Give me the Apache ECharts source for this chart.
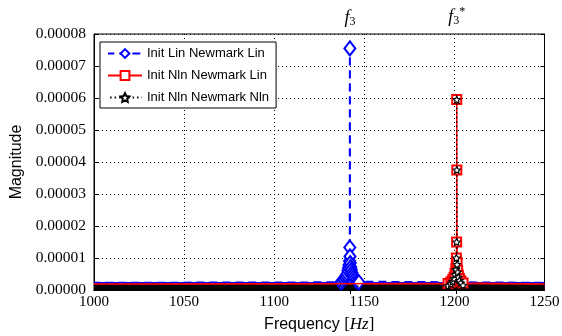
<!DOCTYPE html>
<html>
<head>
<meta charset="utf-8">
<script src="https://cdn.jsdelivr.net/npm/echarts@6/dist/echarts.min.js"></script>
<style>html,body{margin:0;padding:0;background:#fff;}#c{width:562px;height:336px;}</style>
</head>
<body>
<div id="c"></div>
<script>
// ---- data ----
const xTicks = [1000, 1050, 1100, 1150, 1200, 1250];
const yTicks = [0, 0.00001, 0.00002, 0.00003, 0.00004, 0.00005, 0.00006, 0.00007, 0.00008];
const f3 = 1142.0;
const f3s = 1201.3;

const seriesNames = ['Init Lin Newmark Lin', 'Init Nln Newmark Lin', 'Init Nln Newmark Nln'];

const blueFreq = [1000, 1137.0, 1138.0, 1138.8, 1139.5, 1140.0, 1140.5, 1140.9, 1141.2, 1141.5, 1141.8, 1141.95, 1142.0, 1142.05, 1142.2, 1142.5, 1142.8, 1143.2, 1143.6, 1144.1, 1144.7, 1145.4, 1146.2, 1147.0, 1250];
const blueMag  = [2.25e-6, 2.4e-6, 2.8e-6, 3.3e-6, 3.8e-6, 4.4e-6, 5.1e-6, 6.0e-6, 6.9e-6, 7.8e-6, 9.1e-6, 1.33e-5, 7.55e-5, 1.05e-5, 8.4e-6, 7.2e-6, 6.3e-6, 5.4e-6, 4.7e-6, 4.1e-6, 3.5e-6, 3.0e-6, 2.6e-6, 2.4e-6, 2.25e-6];

const redFreq = [1000, 1196.5, 1198.0, 1199.0, 1199.8, 1200.4, 1200.8, 1201.1, 1201.25, 1201.3, 1201.35, 1201.5, 1201.8, 1202.2, 1202.8, 1203.6, 1204.8, 1250];
const redMag  = [1.9e-6, 2.0e-6, 2.5e-6, 3.2e-6, 4.0e-6, 5.2e-6, 6.8e-6, 1.0e-5, 1.5e-5, 5.95e-5, 3.75e-5, 8.5e-6, 6.2e-6, 4.6e-6, 3.6e-6, 2.8e-6, 2.2e-6, 1.9e-6];

const blackFreq = [1000, 1196.5, 1198.0, 1199.0, 1199.8, 1200.4, 1200.8, 1201.1, 1201.25, 1201.3, 1201.35, 1201.5, 1201.8, 1202.2, 1202.8, 1203.6, 1204.8, 1250];
const blackMag  = [1.0e-6, 1.3e-6, 1.9e-6, 2.7e-6, 3.6e-6, 4.8e-6, 6.4e-6, 1.0e-5, 1.5e-5, 5.95e-5, 3.75e-5, 8.0e-6, 5.6e-6, 4.0e-6, 3.0e-6, 2.2e-6, 1.5e-6, 1.0e-6];

// dense-marker floors near zero (blue, red, black)
const floorFreq = [1000, 1250];
const blueFloor  = [2.5e-6, 2.5e-6];
const redFloor   = [1.95e-6, 1.95e-6];
const blackFloor = [1.7e-6, 1.7e-6];

function build(fx, fy) {
  return fx.map((x, i) => {
    const item = { value: [x, fy[i]] };
    if (i === 0 || i === fx.length - 1) item.symbol = 'none';
    return item;
  });
}
function floorSeries(vals, color) {
  return {
    name: 'floor', type: 'line', data: floorFreq.map((x, i) => [x, vals[i]]),
    symbol: 'none', lineStyle: { width: 0, color: color }, areaStyle: { color: color, opacity: 1 },
    silent: true, z: 1
  };
}

const serif = 'Liberation Serif';
const sans = 'Liberation Sans';
const blueDash = [8, 5];
const blackDash = [1.5, 3];

const chart = echarts.init(document.getElementById('c'), null, { renderer: 'canvas' });
chart.setOption({
  animation: false,
  backgroundColor: '#fff',
  grid: { left: 94, right: 17.5, top: 34, bottom: 46, show: true, borderColor: '#000', borderWidth: 1, backgroundColor: 'transparent', outerBoundsMode: 'none', containLabel: false },
  legend: {
    data: seriesNames,
    orient: 'vertical',
    left: 100, top: 42,
    padding: [5, 7, 4, 7],
    itemWidth: 34, itemHeight: 11, itemGap: 9,
    borderColor: '#000', borderWidth: 1, borderRadius: 0,
    backgroundColor: '#fff',
    textStyle: { fontFamily: sans, fontSize: 13, color: '#000' }
  },
  xAxis: [{
    type: 'value', min: xTicks[0], max: xTicks[xTicks.length - 1], interval: 50,
    position: 'bottom',
    name: '{a|Frequency }{b|[}{i|Hz}{b|]}', nameLocation: 'middle', nameGap: 26,
    nameTextStyle: {
      rich: {
        a: { fontFamily: sans, fontSize: 16, color: '#000' },
        b: { fontFamily: serif, fontSize: 17, color: '#000' },
        i: { fontFamily: serif, fontSize: 17, fontStyle: 'italic', color: '#000' }
      }
    },
    axisLine: { show: true, lineStyle: { color: '#000', width: 1 } },
    axisTick: { show: true, inside: true, length: 4, lineStyle: { color: '#000' } },
    axisLabel: { fontFamily: serif, fontSize: 15, color: '#000', margin: 5, formatter: v => String(v) },
    splitLine: { show: true, lineStyle: { color: '#000', width: 1, type: [1, 3] } }
  }, {
    type: 'value', min: xTicks[0], max: xTicks[xTicks.length - 1],
    position: 'top',
    axisLine: { show: true, lineStyle: { color: '#000', width: 1 } },
    axisTick: { show: true, inside: true, length: 4, customValues: [f3, f3s], lineStyle: { color: '#000' } },
    axisLabel: {
      show: true, customValues: [f3, f3s], margin: 6,
      formatter: v => (Math.abs(v - f3) < 0.01 ? '{f|f}{s|3}' : '{f|f}{s|3}{u|*}'),
      rich: {
        f: { fontFamily: serif, fontSize: 18, fontStyle: 'italic', color: '#000' },
        s: { fontFamily: serif, fontSize: 12, color: '#000', padding: [8, 0, 0, 0] },
        u: { fontFamily: serif, fontSize: 12, color: '#000', padding: [0, 0, 10, 0] }
      }
    },
    splitLine: { show: false }
  }],
  yAxis: [{
    type: 'value', min: 0, max: yTicks[yTicks.length - 1], interval: 0.00001,
    name: 'Magnitude', nameLocation: 'middle', nameGap: 69,
    nameTextStyle: { fontFamily: sans, fontSize: 16, color: '#000' },
    axisLine: { show: true, lineStyle: { color: '#000', width: 1 } },
    axisTick: { show: true, inside: true, length: 4, lineStyle: { color: '#000' } },
    axisLabel: { fontFamily: serif, fontSize: 15.5, color: '#000', margin: 8, formatter: v => v.toFixed(5) },
    splitLine: { show: true, lineStyle: { color: '#000', width: 1, type: [1, 3] } }
  }, {
    type: 'value', min: 0, max: yTicks[yTicks.length - 1], interval: 0.00001,
    position: 'right',
    axisLine: { show: true, lineStyle: { color: '#000', width: 1 } },
    axisTick: { show: true, inside: true, length: 4, lineStyle: { color: '#000' } },
    axisLabel: { show: false },
    splitLine: { show: false }
  }],
  series: [
    floorSeries(blueFloor, '#0000ff'),
    floorSeries(redFloor, '#ff0000'),
    floorSeries(blackFloor, '#000000'),
  {
    id: 'blue', name: seriesNames[0], type: 'line', data: build(blueFreq, blueMag),
    symbol: 'emptyDiamond', symbolSize: [11, 14], showAllSymbol: true,
    color: '#0000ff',
    itemStyle: { color: '#0000ff', borderColor: '#0000ff', borderWidth: 1.3 },
    lineStyle: { color: '#0000ff', width: 2, type: blueDash }, z: 3
  }, {
    id: 'red', name: seriesNames[1], type: 'line', data: build(redFreq, redMag),
    symbol: 'emptyRect', symbolSize: 9, showAllSymbol: true,
    color: '#ff0000',
    itemStyle: { color: '#ff0000', borderColor: '#ff0000', borderWidth: 1.3 },
    lineStyle: { color: '#ff0000', width: 1.5 }, z: 4
  }, {
    id: 'black', name: seriesNames[2], type: 'line', data: build(blackFreq, blackMag),
    symbol: 'path://M0,-10 L2.9,-4 L9.5,-3.1 L4.8,1.5 L5.9,8.1 L0,5 L-5.9,8.1 L-4.8,1.5 L-9.5,-3.1 L-2.9,-4 Z',
    symbolSize: 7, showAllSymbol: true,
    color: '#000',
    itemStyle: { color: '#fff', borderColor: '#000', borderWidth: 1.2 },
    lineStyle: { color: '#000', width: 1.3, type: blackDash }, z: 5
  }]
});

// align dash phase so the up and down strokes of each spike coincide
function pathLenToPeak(fx, fy) {
  let peak = 0;
  fy.forEach((v, i) => { if (v > fy[peak]) peak = i; });
  let len = 0, prev = chart.convertToPixel({ xAxisIndex: 0, yAxisIndex: 0 }, [fx[0], fy[0]]);
  for (let i = 1; i <= peak; i++) {
    const p = chart.convertToPixel({ xAxisIndex: 0, yAxisIndex: 0 }, [fx[i], fy[i]]);
    len += Math.hypot(p[0] - prev[0], p[1] - prev[1]);
    prev = p;
  }
  return len;
}
function offsetFor(len, dash) {
  const period = dash[0] + dash[1];
  const want = dash[0] / 2;
  return ((want - len) % period + period) % period;
}
chart.setOption({
  series: [
    { id: 'blue', lineStyle: { dashOffset: offsetFor(pathLenToPeak(blueFreq, blueMag), blueDash) } },
    { id: 'black', lineStyle: { dashOffset: offsetFor(pathLenToPeak(blackFreq, blackMag), blackDash) } }
  ]
});
</script>
</body>
</html>
